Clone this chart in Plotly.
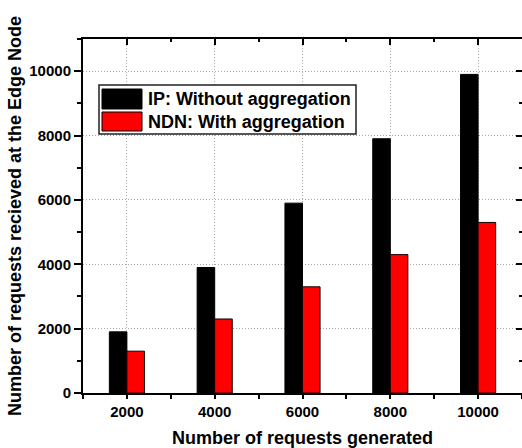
import plotly.graph_objects as go

# Data
requests_generated = [2000, 4000, 6000, 8000, 10000]
ip_received = [1900, 3900, 5900, 7900, 9900]
ndn_received = [1300, 2300, 3300, 4300, 5300]
series_names = ["IP: Without aggregation", "NDN: With aggregation"]
x_title = "Number of requests generated"
y_title = "Number of requests recieved at the Edge Node"

W, H = 522, 448
L, R, T, B = 83, 0, 39, 55
FONT = "Liberation Sans, Arial, sans-serif"

fig = go.Figure()
fig.add_trace(go.Bar(x=requests_generated, y=ip_received, name=series_names[0],
                     marker=dict(color="#000000", line=dict(color="#000000", width=1)),
                     showlegend=False))
fig.add_trace(go.Bar(x=requests_generated, y=ndn_received, name=series_names[1],
                     marker=dict(color="#ff0000", line=dict(color="#1a0000", width=1)),
                     showlegend=False))

axis_common = dict(zeroline=False, linecolor="black", linewidth=2,
                   tickcolor="black", tickwidth=2)
grid = dict(showgrid=True, gridcolor="#a8a8a8", griddash="1px,2px", gridwidth=1)

fig.update_layout(
    width=W, height=H,
    margin=dict(l=L, r=R, t=T, b=B, pad=0),
    plot_bgcolor="white", paper_bgcolor="white",
    font=dict(family=FONT, size=15, color="black", weight="bold"),
    barmode="group", bargap=0.6, bargroupgap=0,
    xaxis=dict(range=[1000, 11000], tickmode="linear", tick0=2000, dtick=2000,
               tickformat="d", ticks="outside", ticklen=4, showline=True,
               minor=dict(tick0=1000, dtick=1000, ticks="outside", ticklen=4,
                          tickwidth=2, tickcolor="black"),
               title=dict(text=x_title, font=dict(size=18, weight="bold"), standoff=16),
               tickfont=dict(size=15, weight="bold"),
               **grid, **axis_common),
    yaxis=dict(range=[0, 11000], tickmode="linear", tick0=0, dtick=2000,
               tickformat="d", ticks="outside", ticklen=7, showline=True,
               minor=dict(tick0=0, dtick=1000, ticks="outside", ticklen=4,
                          tickwidth=2, tickcolor="black"),
               title=dict(text=y_title, font=dict(size=18, weight="bold"), standoff=3),
               tickfont=dict(size=15, weight="bold"),
               **grid, **axis_common),
    xaxis2=dict(range=[1000, 11000], overlaying="x", side="top", tickmode="linear",
                tick0=2000, dtick=2000, ticks="inside", ticklen=6, showline=True,
                showticklabels=False, showgrid=False,
                minor=dict(tick0=1000, dtick=1000, ticks="inside", ticklen=3,
                           tickwidth=2, tickcolor="black"),
                **axis_common),
    yaxis2=dict(range=[0, 11000], overlaying="y", side="right", tickmode="linear",
                tick0=0, dtick=2000, ticks="inside", ticklen=6, showline=False,
                showticklabels=False, showgrid=False,
                minor=dict(tick0=0, dtick=1000, ticks="inside", ticklen=3,
                           tickwidth=2, tickcolor="black"),
                **axis_common),
)

# carrier trace so the mirrored top/right axes are rendered
fig.add_trace(go.Scatter(x=[None], y=[None], xaxis="x2", yaxis="y2",
                         showlegend=False, hoverinfo="skip"))

# Legend box with large swatches
pw, ph = W - L - R, H - T - B
def px_x(p):
    return (p - L) / pw
def px_y(p):
    return (H - B - p) / ph

fig.add_shape(type="rect", xref="paper", yref="paper",
              x0=px_x(99), x1=px_x(356), y0=px_y(134), y1=px_y(85),
              line=dict(color="#202020", width=1.5), fillcolor="white", layer="above")
swatch_colors = ["#000000", "#ff0000"]
rows = [(89, 109), (112, 131)]
for name, col, (ya, yb) in zip(series_names, swatch_colors, rows):
    fig.add_shape(type="rect", xref="paper", yref="paper",
                  x0=px_x(102), x1=px_x(142), y0=px_y(yb), y1=px_y(ya),
                  line=dict(color="#000000", width=1), fillcolor=col, layer="above")
    fig.add_annotation(xref="paper", yref="paper", x=px_x(146), y=px_y((ya + yb) / 2),
                       text=name, showarrow=False, xanchor="left", yanchor="middle",
                       font=dict(size=18, weight="bold", color="black"))

fig.write_html("out.html")
